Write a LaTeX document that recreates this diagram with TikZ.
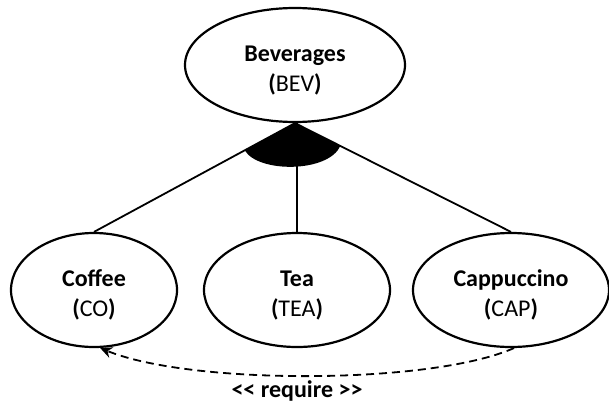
\documentclass[tikz,border=0pt]{standalone}
\usepackage{fontspec}
\setmainfont{Carlito}
\usetikzlibrary{shapes.geometric,arrows.meta,calc}
\newcommand{\ftxt}[2]{\raisebox{-5pt}[\height][\depth]{\begin{tabular}{@{}c@{}}\textbf{#1}\\\textbf{(}#2\textbf{)}\end{tabular}}}
\begin{document}
\begin{tikzpicture}[x=1pt,y=-1pt,
  feat/.style={ellipse,draw,line width=2.2pt,inner sep=0pt,
    font=\fontsize{24}{30}\selectfont},
  link/.style={line width=1.8pt},
  req/.style={line width=1.8pt,dash pattern=on 8pt off 5pt,-{Stealth[length=12pt,width=11pt]}}]
\useasboundingbox (0,0) rectangle (609,407);
\node[feat,minimum width=220pt,minimum height=114pt] (bev) at (295,65) {\ftxt{Beverages}{BEV}};
\node[feat,minimum width=166pt,minimum height=114pt] (co) at (94,290) {\ftxt{Coffee}{CO}};
\node[feat,minimum width=186pt,minimum height=114pt] (tea) at (297,290) {\ftxt{Tea}{TEA}};
\node[feat,minimum width=196pt,minimum height=114pt] (cap) at (511,290) {\ftxt{Cappuccino}{CAP}};
\coordinate (apex) at (bev.south);
\coordinate (wl) at ($(apex)!0.25!(co.north)$);
\coordinate (wr) at ($(apex)!0.21!(cap.north)$);
\fill (apex) -- (wl) .. controls (258,173) and (328,173) .. (wr) -- cycle;
\draw[link] (apex) -- (co.north);
\draw[link] (apex -| tea.north) -- (tea.north);
\draw[link] (apex) -- (cap.north);
\draw[req] (cap.-87) .. controls (430,385) and (190,385) .. (co.-84);
\node[font=\fontsize{24}{30}\selectfont\bfseries] (lbl) at (297,391) {<\kern0pt< require >\kern0pt>};
\end{tikzpicture}
\end{document}
